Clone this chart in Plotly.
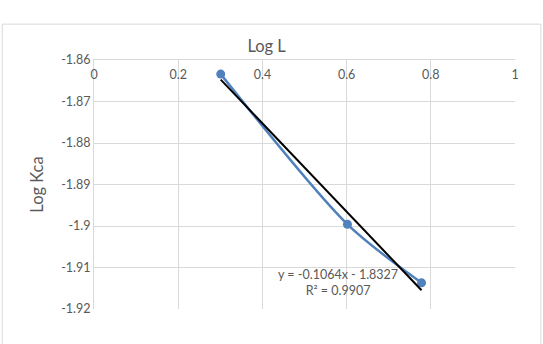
import plotly.graph_objects as go

# Data
log_l = [0.301, 0.602, 0.778]
log_kca = [-1.8634, -1.8996, -1.9137]
slope = -0.1064
intercept = -1.8327
trend_x = [min(log_l), max(log_l)]
trend_y = [slope * v + intercept for v in trend_x]
x_ticks = [0, 0.2, 0.4, 0.6, 0.8, 1]
y_ticks = [-1.86, -1.87, -1.88, -1.89, -1.9, -1.91, -1.92]

FONT = "Lato, Carlito, Calibri, sans-serif"
GRAY = "#595959"
GRID = "#d9d9d9"

fig = go.Figure()
fig.add_trace(go.Scatter(
    x=log_l, y=log_kca, mode="lines+markers",
    line=dict(color="#4F81BD", width=2.5, shape="spline", smoothing=0.8),
    marker=dict(color="#4F81BD", size=9),
    showlegend=False, hoverinfo="skip"))
fig.add_trace(go.Scatter(
    x=trend_x, y=trend_y, mode="lines",
    line=dict(color="black", width=2),
    showlegend=False, hoverinfo="skip"))

fig.add_annotation(
    x=0.58, y=-1.9137, xref="x", yref="y",
    text="y = -0.1064x - 1.8327<br>R² = 0.9907",
    showarrow=False, font=dict(family=FONT, size=12.5, color=GRAY),
    align="center", xanchor="center", yanchor="middle")

# chart border
fig.add_shape(type="rect", xref="paper", yref="paper",
              x0=-0.218, x1=1.0615, y0=-0.16, y1=1.144,
              line=dict(color=GRID, width=1), fillcolor="rgba(0,0,0,0)",
              layer="below")

fig.update_layout(
    width=543, height=344,
    margin=dict(l=94, r=28, t=60, b=35),
    paper_bgcolor="white", plot_bgcolor="white",
    title=dict(text="Log L", x=0.41, xref="paper", xanchor="center",
               y=1 - 46 / 344, yanchor="middle",
               font=dict(family=FONT, size=16.5, color=GRAY)),
    font=dict(family=FONT, size=12, color=GRAY),
)
fig.update_xaxes(
    range=[0, 1], tickvals=x_ticks, ticktext=[f"{v:g}" for v in x_ticks],
    side="top", ticklabelposition="inside", ticklabeloverflow="allow", ticks="",
    ticklabelstandoff=10,
    showgrid=True, gridcolor=GRID, gridwidth=1,
    showline=True, linecolor=GRID, linewidth=1, mirror=False,
    zeroline=False, tickfont=dict(family=FONT, size=12.5, color=GRAY))
fig.update_yaxes(
    range=[-1.92, -1.86], tickvals=y_ticks, ticktext=[f"{v:g}" for v in y_ticks],
    ticklabeloverflow="allow",
    showgrid=True, gridcolor=GRID, gridwidth=1,
    showline=True, linecolor=GRID, linewidth=1,
    zeroline=False, ticks="", ticklen=0,
    title=dict(text="Log Kca", font=dict(family=FONT, size=16.5, color=GRAY), standoff=13),
    tickfont=dict(family=FONT, size=12.5, color=GRAY))

fig.write_html("out.html")
